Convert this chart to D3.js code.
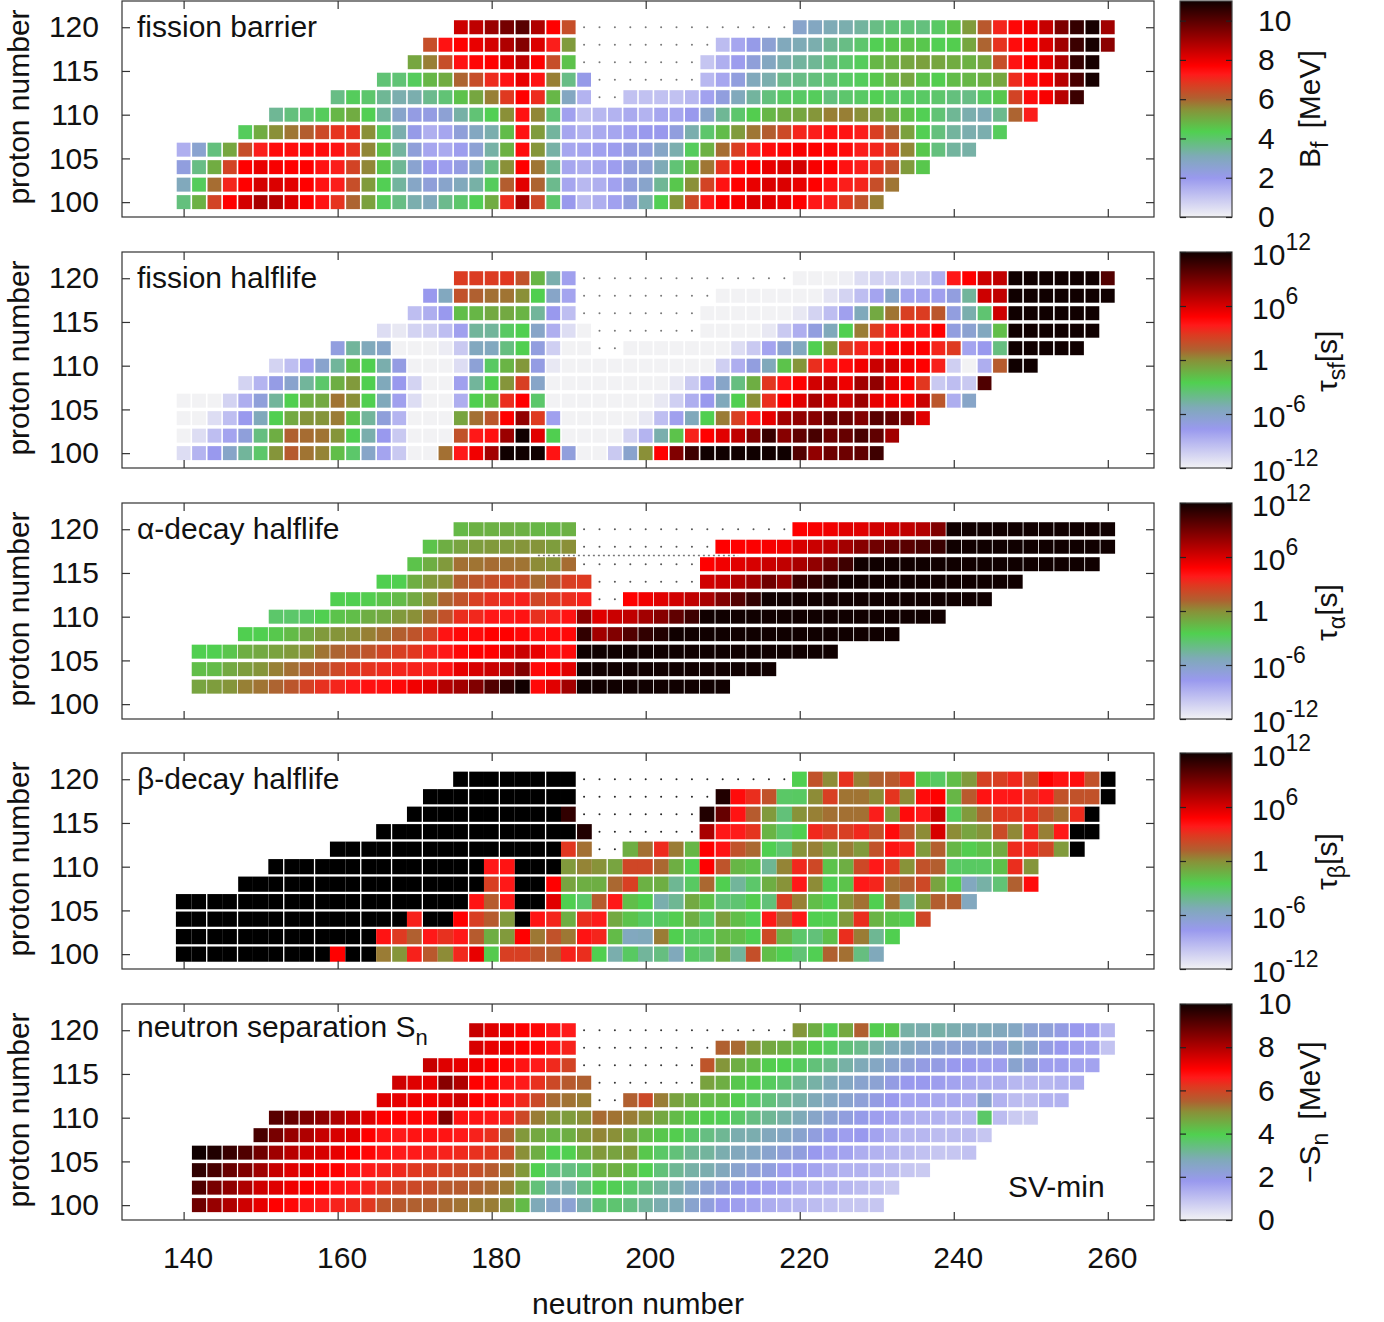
<!DOCTYPE html>
<html>
<head>
<meta charset="utf-8">
<script src="https://cdn.jsdelivr.net/npm/d3@7/dist/d3.min.js"></script>
<style>
body { margin: 0; background: #fff; }
text { font-family: "Liberation Sans", Arial, sans-serif; fill: #111; }
</style>
</head>
<body>
<svg id="chart" width="1384" height="1322"></svg>
<script>
const protonNumbers = [100, 102, 104, 106, 108, 110, 112, 114, 116, 118, 120];
const xTicks = [140, 160, 180, 200, 220, 240, 260];
const yTicks = [100, 105, 110, 115, 120];

const paletteStops = [0, 0.18, 0.28, 0.395, 0.5, 0.55, 0.62, 0.66, 0.7, 1];
const paletteColors = ["#f2f2f4", "#9999ee", "#7faab8", "#50d050", "#8a9038", "#b06030", "#e03820", "#ff1a1a", "#ff0000", "#100000"];

// first neutron number of every row, null stands for a position that only has a dot
const barrierStart = [140, 140, 140, 140, 148, 152, 160, 166, 170, 172, 176];
const barrierValues = [
  [3.8,4.9,6.6,7.7,8.3,8.9,8.7,8.2,7.7,7.4,6.9,6,5.2,4.2,3.7,3.2,3,3.6,4,4.3,5,7,8.9,6.5,4,2,1.2,1.5,1.8,2.3,3.2,4.3,5.4,6.5,7.3,7.7,7.8,8.2,8.1,8,7.7,7.3,7.2,6.8,6.3,5.7],
  [3,4.2,5.9,7.1,7.7,8.3,8.2,8.1,7.7,7.4,7.2,6.4,5.3,4.3,3.4,2.8,2.4,2.7,3,3.3,4.2,6.1,8.1,6,3.6,1.7,1.3,1.5,1.8,2.3,2.7,3.5,4.5,5.5,6.6,7.4,7.7,8,8.2,8.2,8,7.7,7.4,7.2,7.1,6.4,5.8],
  [2.3,3.7,5,6.6,7.7,8,7.8,7.7,7.7,7.4,7.2,6.6,5.6,4.5,3.5,2.6,2,1.9,2.2,2.9,3.7,5.5,7.7,5.8,3.5,1.7,1.5,1.7,1.9,2.3,2.5,3.1,3.9,4.7,5.8,6.9,7.5,7.7,8,8.2,8.3,7.8,7.7,7.4,7.2,6.9,6.3,5.3,4.5],
  [1.5,2.6,3.8,5.1,6.4,7.2,7.5,7.5,7.5,7.5,7.4,6.9,5.6,4.6,3.4,2.4,1.7,1.6,1.9,2.5,3.3,4.9,7.5,5.4,3.3,1.7,1.7,1.8,1.9,2.2,2.3,2.8,3.2,4.2,4.9,5.9,6.7,7.2,7.5,7.6,7.8,7.7,7.6,7.5,7.2,7.1,6.7,5.6,4.5,3.8,3.4,3.3],
  [4.2,5,5.5,5.8,6.1,6.5,6.9,6.9,5.5,4.2,3.2,2.1,1.5,1.7,2.4,2.9,3.2,4.7,7.4,5.3,3.4,1.7,1.4,1.6,1.7,1.8,2,2,2.3,3.2,4,4.7,5.3,5.8,6.1,6.5,7.1,7.2,7.4,7.4,7.2,6.7,6,5.2,4.3,3.8,3.4,3.2,3.2,4.2],
  [3.5,3.8,4,4.2,4.8,5,4.3,3.4,2.7,2.2,2.2,2.5,3.3,3.9,4.3,5.5,7.4,5.6,3.9,1.8,1.1,1.3,1.4,1.6,1.4,1.7,1.7,2,2.7,3.5,4,4.4,4.8,5,5.1,5.4,5.7,5.7,5.5,5.3,5,4.6,4.3,3.9,3.5,3.2,3.1,3.6,6,7.2],
  [3.7,4.2,4,3.5,3.2,3.2,3.6,3.9,4.6,5.1,5.7,6.8,7.7,7,4.8,2.9,1.4,null,null,1.1,1.1,1.1,1.1,1.3,1.8,2.3,3,3.4,3.8,4.1,4.1,4.2,3.8,4,4.1,4.3,4.1,4.1,4.1,4,3.8,3.7,4.1,4.5,6.6,7.5,7.8,8.7,10.4],
  [3.9,3.9,4.2,4.8,5,6,6.4,7,7.4,8,7.4,5.7,3.7,2.1,null,null,null,null,null,null,null,1.3,1.7,2.3,3,3.2,3.6,3.7,3.8,3.9,4.1,4.2,4.5,4.8,5.1,4.6,4.4,4.7,4.8,4.9,5.1,7,7.5,7.8,8.7,10.2,10.9],
  [5.1,5.7,6.4,7.4,7.6,7.7,8.1,8.6,7.7,6.4,4.6,null,null,null,null,null,null,null,null,1,1.5,1.9,2.4,2.9,3.2,3.4,3.5,3.8,4,4.2,4.8,4.9,5.1,5.2,5.1,5,4.9,5.1,6.4,7.4,7.7,8,8.8,10.5,10.9],
  [6.4,7.4,7.7,8,8.3,8.8,9.4,8.2,7.2,5.3,null,null,null,null,null,null,null,null,null,1.2,1.7,2.1,2.5,3,3.1,3.2,3.5,3.7,4,4.3,4.5,4.6,4.5,4.3,4.4,5.1,6,6.9,7.5,7.7,8.2,9,10.4,10.9,9.3],
  [8.4,8.6,9.1,9.6,10,8.8,7.7,6.4,null,null,null,null,null,null,null,null,null,null,null,null,null,null,2.7,2.9,3.1,3.2,3.4,3.7,3.9,3.9,3.8,4.1,4.6,5.3,6.2,7.1,7.6,7.9,8.5,9.5,10.5,10.9,9]
];

const fissionStart = [140, 140, 140, 140, 148, 152, 160, 166, 170, 172, 176];
const fissionValues = [
  [-11,-9,-7.7,-6,-4.5,-3.2,-0.2,1.4,0.7,0.3,-1.8,-3.2,-6,-8.2,-10,-12,-12,0.8,3.9,5.2,7.6,12,12,12,4.1,-6.9,-12,-12,-10,-6.2,0,4.8,8.6,10.6,12,12,12,12,12,12,10,8.1,9.2,9.2,9.6,10.6],
  [-12,-11,-9.5,-8.2,-6.8,-3.8,-1.2,1.2,0.9,0.7,-0.2,-2.5,-5,-7.7,-10,-12,-12,-12,1.8,3.9,4.2,7.8,12,5.7,-2.5,-12,-12,-12,-12,-10.5,-9,-5,-2,3.6,4.8,5.7,6.7,8.6,10.8,8.4,9.6,10.3,9.2,9.4,10.3,9.6,7.6],
  [-12,-12,-11,-9.5,-7.7,-5.4,-2.5,-1,-0.2,-0.2,0.5,-2,-4.5,-6.8,-9,-12,-12,-12,-0.8,0.8,1.6,4.8,8.1,2.8,-8,-12,-12,-12,-12,-12,-11.5,-9.5,-8,-5.4,-2.5,0.5,2.6,4.1,5.5,7.6,8.1,8.4,9.4,9.2,8.6,9.8,9.4,8.6,5.7],
  [-12,-12,-12,-10.5,-8.7,-6.8,-4.5,-2.5,-1.2,-1,0.7,0,-2.5,-5.4,-8,-11,-12,-12,-8.7,-2.5,-1.8,3.2,4.8,-3.2,-12,-12,-12,-12,-12,-12,-12,-11.5,-10.3,-8.7,-7.7,-5.4,-2.5,0,3.2,4.8,5.7,7.4,6.4,6.3,7.8,5.5,5.2,4.8,6.4,1.6,-8.7,-6],
  [-10.5,-9,-7.3,-6.2,-4.5,-3.2,-1.2,-0.4,-2.5,-5.4,-7.7,-10.5,-12,-12,-8,-4.5,-2.5,-0.2,2.6,-6,-12,-12,-12,-12,-12,-12,-12,-12,-11.5,-10,-8.2,-6,-3.8,-1.2,2.9,4.1,4.8,6.2,6.7,5.3,7.6,8.1,5.7,4.8,2.9,-10,-9.5,-10,10.1],
  [-10.5,-9.5,-8,-6.2,-4.5,-2,-2.5,-5,-7.2,-12,-12,-12,-11,-6.6,-3,-1.4,-0.3,-7.2,-11.5,-12,-12,-12,-12,-12,-12,-12,-12,-12,-12,-10.3,-8.7,-7,-5.4,-2,-0.2,3.2,4.1,4.4,5.2,6.4,6.3,5.2,4.8,3.6,-10.3,-12,-8.7,1.4,12,12],
  [-7,-4.5,-5.4,-6,-12,-12,-12,-11.7,-10,-5.6,-5.6,-3.8,-2.5,-7,-10.3,-12,-12,null,null,-12,-12,-12,-12,-12,-12,-12,-11,-10,-8.2,-6.4,-5.6,-2.5,-0.4,2.8,3.5,4.1,4.8,5,4.8,3.5,2.8,-8.2,-7.7,-3.8,12,12,12,12,12],
  [-11,-11.5,-10.5,-10.3,-9.5,-8,-4.5,-4.5,-3,-2.5,-6,-8.7,-11,-12,null,null,null,null,null,null,null,-12,-12,-12,-12,-11.5,-10,-8.7,-7,-5.4,-2.5,0.5,2.8,3.9,4.4,4.1,4.8,-7,-6.4,-5.6,-1.8,12,12,12,12,12,12],
  [-9.5,-8.7,-7.7,-1.8,-1.5,-1,-1,-1.4,-4.5,-7.7,-9.5,null,null,null,null,null,null,null,null,-12,-12,-12,-12,-12,-12,-11.5,-10.5,-9.5,-8,-5.4,-1,0.7,2.6,2.7,1.6,-7,-5,-3.4,6.3,12,12,12,12,12,12],
  [-7.7,-5.6,1.8,1.2,0.8,0.7,0,-2.5,-6,-8.2,null,null,null,null,null,null,null,null,null,-12,-12,-12,-12,-12,-12,-12,-11.3,-10.5,-9.5,-8.2,-6,-8.2,-8.2,-8,-7,-4.5,6.3,6.7,12,12,12,12,12,12,12],
  [2.7,2.7,2.7,2.9,1.8,-1.5,-5,-8,null,null,null,null,null,null,null,null,null,null,null,null,null,null,-12,-12,-12,-11.8,-11,-10.5,-10.5,-10.5,-10.2,-8.7,3.9,4.8,6.3,6.7,12,12,12,12,12,12,10]
];

const alphaStart = [null, 142, 142, 142, 148, 152, 160, 166, 170, 172, 176];
const alphaValues = [
  [],
  [-0.8,-0.5,-0.2,0.4,0.7,1.1,1.6,2.5,3.1,3.5,3.9,4.2,4.2,4.5,5.2,5.7,7.1,7.6,8.6,10,11,12,4.5,5.7,7.6,12,12,12,12,12,12,12,12,12,12],
  [-1.8,-1.7,-1,-0.5,-0.2,0.4,0.8,1.3,1.6,2.2,2.8,3,3.3,3.5,3.6,3.6,4.2,5.5,6,6.4,7.1,8.6,4.5,4.8,5.7,12,12,12,12,12,12,12,12,12,12,12,12,12],
  [-2.5,-2.5,-2.1,-1.2,-1,-0.7,-0.4,0,0.7,1.1,1.4,1.7,2.3,2.6,2.9,3.6,3.9,4.5,4.8,4.8,5.7,6.4,5.5,4.2,4.4,12,12,12,12,12,12,12,12,12,12,12,12,12,12,12,12,12],
  [-2.5,-2.5,-2.2,-1.7,-1,-0.4,-0.2,0,0.4,0.8,1.3,1.7,2.5,4.1,4.5,4.4,4.8,4.8,4.5,4.2,4.4,4.5,11,7.6,8.6,10,11,11.5,12,12,12,12,12,12,12,12,12,12,12,12,12,12,12],
  [-3.2,-3.2,-3,-2.5,-2,-1.8,-1.2,-1,-0.4,0,0.9,1.8,3.2,3.4,3.9,3.9,4.1,3.1,3.6,4.1,8.4,5.7,6.4,6.7,7.6,8.4,9.6,10.6,12,12,12,12,12,12,12,12,12,12,12,12,12,12,12,12],
  [-2.5,-2.5,-2.4,-2,-1.7,-1,0,1.1,1.8,2.6,3.1,3.4,3.6,2.3,2.8,3.2,3.6,null,null,4.8,5.2,5.7,6.2,6.7,7.4,8.6,10,11,12,12,12,12,12,12,12,12,12,12,12,12,12,12,12],
  [-2.5,-2.5,-1.2,-0.4,0,1.3,1.6,1.9,2.3,1.9,0.9,1.6,2.6,2.8,null,null,null,null,null,null,null,6.2,6.4,7.1,7.6,9.1,8,10.6,11,11.5,12,12,12,12,12,12,12,12,12,12,12,12],
  [-2,-1.2,-0.4,0.8,0.7,0.9,0.8,0.7,0.1,-0.1,0.9,null,null,null,null,null,null,null,null,4.8,5.2,5.7,6,6.4,6.7,7.4,8.1,9.2,10.6,12,12,12,12,12,12,12,12,12,12,12,12,12,12,12,12],
  [-2,-1.2,-0.8,-0.5,-0.4,-0.4,-0.2,-0.2,-0.5,0,null,null,null,null,null,null,null,null,null,4.8,4.8,4.9,5,5.2,6,6.4,6.8,7.6,8.4,9.1,9.6,9.8,10.3,10.8,12,12,12,12,12,12,12,12,12,12,12],
  [-1.6,-1.3,-1.3,-1.2,-1.3,-1.5,-1.5,-1.3,null,null,null,null,null,null,null,null,null,null,null,null,null,null,4.8,5,5.2,5.7,5.7,6.2,6.4,6.7,7.1,8.6,12,12,12,12,12,12,12,12,12,12,12]
];
const alphaStrayZ = 117;
const alphaStrayN = [186, 212];

// 13 lies over the colour range and comes out pure black
const betaStart = [140, 140, 140, 140, 148, 152, 160, 166, 170, 172, 176];
const betaValues = [
  [13,13,13,13,13,13,13,13,13,13,4.8,13,13,0.5,-0.2,3.6,1.5,0.1,3.4,5.5,-2.3,2.6,2.6,1.7,1.3,3.6,3.2,-2.5,-5,-3,-4.5,-3.8,-5.4,-3,-3.6,-1.2,-4.5,1.9,-1.8,-2.5,-3.5,-2.6,1.2,0.8,-3.8,-5.4],
  [13,13,13,13,13,13,13,13,13,13,13,13,13,4.1,2.8,1.2,3.9,3.1,3.9,1.4,-1.2,-0.4,4.8,0.6,1.8,0.6,4.1,3.5,-1.7,-5.6,-5.4,0.5,-2.5,-3,-2.8,-1.6,-1.8,-2.5,2.2,-1.4,-3.2,-3.6,-1.9,3.2,0.5,-4.3,-2.5],
  [13,13,13,13,13,13,13,13,13,13,13,13,13,13,13,3.6,13,13,4.8,2.6,1.4,-0.4,13,4.1,3.5,-1.2,3.2,3.8,-1,-2,-3,-3,-2.4,-1.2,-3,-0.5,-1.8,-2.6,3.9,1.2,3.9,-2.5,-2.4,-0.4,3.2,-1.4,-2.1,-2.4,2.3],
  [13,13,13,13,13,13,13,13,13,13,13,13,13,13,13,13,13,13,13,4.1,1.4,3.9,13,13,5.7,-2.5,-3.2,1.4,3.9,-1.8,-2.5,-5,-4.3,-1,-2,-3.6,-3.4,-2.4,-3.6,2.6,0.4,-1.8,-2.5,-0.2,0.8,-2.5,0.8,-4.3,-0.5,1.3,1.3,-5.6],
  [13,13,13,13,13,13,13,13,13,13,13,13,13,13,13,13,2.6,3.9,13,13,4.8,-0.8,-1.2,-1.2,1,2.6,-1.3,-1.2,-4.3,-3,1,-2.5,-4.5,-3.2,-1.2,-0.1,3.9,0.1,-2.6,-2,3.9,3.5,0.8,1.3,2.2,-0.8,-2.4,-5.6,-4.8,-3.5,1.2,4.4],
  [13,13,13,13,13,13,13,13,13,13,13,13,13,13,3.9,4.1,13,13,13,-0.4,0.3,-0.1,-0.8,2.3,2.3,1,-1.2,-2.5,4.8,1.7,-1.5,-1.9,-4.3,0.3,3.4,2.2,-2,-1.2,2.2,3.9,2.8,-0.1,1.8,1.3,-3,-3,-3,-1.9,3.2,-0.2],
  [13,13,13,13,13,13,13,13,13,13,13,13,13,13,13,2.9,0.8,null,null,-1.2,0.8,3.3,0.5,-1.5,4.8,4.1,1.8,1,-2.5,-3.4,-0.1,0.4,-0.7,0.5,-0.4,1.8,4.1,3.5,-0.4,1.3,-1.5,-2.4,-1.9,-1.1,3.3,3.4,2.3,-0.4,13],
  [13,13,13,13,13,13,13,13,13,13,13,13,13,11.5,null,null,null,null,null,null,null,7.4,3.9,3.8,3,-1.4,-3.2,-2.5,3.4,2.6,2.6,3.4,1.8,4.4,1.5,0.1,6,0.1,-0.8,-0.2,2.1,0.2,3.4,0.4,3.9,13,13],
  [13,13,13,13,13,13,13,13,13,13,11,null,null,null,null,null,null,null,null,11.5,9.4,4.1,1.4,-0.4,-3.6,-0.1,0.4,0.8,0.8,0.8,3.7,-0.4,4.4,3.9,6.4,-2.8,-0.4,1,2.9,2.9,3.2,1.8,0.8,3.3,13],
  [13,13,13,13,13,13,13,13,13,13,null,null,null,null,null,null,null,null,null,11.5,4.4,3.2,1.8,-3.1,-3,0.1,2.6,0.7,0.7,0.1,3,0.1,4.4,4.8,-1.5,1.5,4.1,3.9,4,3,3.9,1.8,1.8,1.8,13],
  [13,13,13,13,13,13,13,13,null,null,null,null,null,null,null,null,null,null,null,null,null,null,-2.5,1.8,0.1,3.1,0.4,1.2,1.5,3.3,-2.2,-3,-1.8,-0.4,2.5,2.6,3.4,1.8,4.8,4.1,4.3,1.8,13]
];
const betaGapN = [143,147,153,157,163,167,171,177,181,187,191,195,201,205,209,215,221,225,231,235,239,245,249,255,259];

const separationStart = [142, 142, 142, 142, 150, 152, 166, 168, 172, 178, 178];
const separationValues = [
  [8.8,8.3,8,7.6,7.3,7,6.9,6.7,6.6,6.5,6.4,6.2,5.7,5.6,5.5,5.5,5.4,5.3,5.2,5.2,4.85,4.3,2.8,2.5,2.3,2.9,3.6,3.6,3.4,3.1,2.9,2.8,2.4,2.1,1.8,1.7,1.6,1.4,1.3,1.2,1.1,1,0.9,0.9,0.9],
  [9.2,8.7,8.4,8,7.6,7.4,7.2,7,6.9,6.7,6.6,6.5,6.2,6,5.9,5.8,5.6,5.6,5.5,5.4,5.2,4.6,3.5,2.9,2.9,3.4,3.95,3.9,3.7,3.4,3.1,2.9,2.6,2.3,2.1,1.9,1.8,1.7,1.6,1.4,1.3,1.3,1.2,1.1,1,0.8],
  [9.6,9.3,8.9,8.6,8.2,7.7,7.4,7.3,7,7,6.7,6.6,6.5,6.4,6.2,6.1,6,5.9,5.8,5.6,5.3,4.85,3.95,3.5,3.4,3.6,4.4,4.5,4.3,3.95,3.5,3.2,3,2.9,2.7,2.4,2.2,2.1,1.7,1.7,1.6,1.4,1.3,1.3,1.2,1.1,0.9,0.8],
  [10,9.8,9.5,9.2,8.8,8.2,7.9,7.6,7.5,7.3,7,6.9,6.7,6.6,6.6,6.5,6.5,6.4,6.3,6.2,5.8,5,4.5,3.95,3.95,4.5,4.85,4.7,4.85,4.1,3.7,3.5,3.2,3.1,2.9,2.7,2.6,2.4,2.2,2.1,1.8,1.6,1.6,1.4,1.3,1.2,1.1,1,0.9,0.9,1],
  [9.3,8.7,8.3,8,7.7,7.5,7.4,7,6.7,6.6,6.7,6.7,6.7,6.6,6.5,6.3,5.5,4.85,4.6,4.4,4.5,4.85,5.1,5,4.7,4.3,4.1,4,3.7,3.4,3.2,2.9,2.9,2.7,2.6,2.4,2.1,1.9,1.7,1.8,1.6,1.3,1.2,1.2,1.1,1.1,1.1,0.9],
  [9.1,8.9,8.6,8.4,8,7.7,7.4,7,7,6.9,6.9,8.6,6.7,6.7,6.6,6.5,5.9,5.2,4.9,4.8,5,5.4,5.3,5.2,5,4.6,4.3,4.1,4,3.9,3.7,3.4,3.2,3,2.8,2.5,2.3,2.1,1.9,1.7,1.6,1.4,1.3,1.3,1.2,1.2,3.7,1.1,0.8,0.8],
  [7.4,7.3,7.2,7.1,7.4,7.6,7,6.9,6.7,6.4,5.9,5.4,5.3,5.2,null,null,5.5,5.9,5.2,4.7,4.5,4.3,4.3,4,3.7,3.5,3.2,3,2.8,2.6,2.4,2.2,2,1.8,1.6,1.6,1.5,1.5,1.4,2.4,1.3,1.1,1.1,1.3,1.3],
  [7.6,7.4,7.3,8.5,8,7,6.9,6.7,6.6,6.3,5.9,5.6,5.5,null,null,null,null,null,null,null,4.7,4.5,4.1,4,3.8,3.6,3.2,3,2.8,2.6,2.4,2.3,2,1.8,1.8,1.7,1.6,1.5,1.4,1.4,1.2,1.2,1.2,1.3,1.4],
  [7.7,7.4,7.3,7.2,7,6.9,6.7,6.6,6.4,6,null,null,null,null,null,null,null,null,5.7,4.9,4.5,4.3,4,3.95,3.8,3.5,3.3,3,2.8,2.6,2.4,2.2,2,2,1.8,1.8,1.7,1.7,2.4,2.1,1.7,1.7,1.6,1.6],
  [7.5,7.3,7.2,7,6.9,6.7,6.5,null,null,null,null,null,null,null,null,null,5.5,5.4,4.9,4.6,4.5,4.3,4,3.8,3.5,3.3,3,2.8,2.7,2.5,2.4,2.3,2.3,2.4,2.2,2.6,2.4,2,1.8,1.7,1.6,0.95],
  [7.7,7.4,7.2,7,6.9,6.7,6.6,null,null,null,null,null,null,null,null,null,null,null,null,null,null,4.9,4.5,4,4.6,5.5,4,4.1,3,2.9,3,2.9,2.8,2.8,2.7,2.6,2.3,2.2,2,1.8,1.7,1.2]
];

const energyTicks = [0, 2, 4, 6, 8, 10];
const timeTicks = [-12, -6, 0, 6, 12];

const svg = d3.select("#chart");
const fontSize = 30;
const panelHeight = 216;
const x = d3.scaleLinear().domain([132, 266]).range([122, 1154]);

// build the shared colour scale for one value range
function colorFor(lo, hi) {
    const scale = d3.scaleLinear()
        .domain(paletteStops.map(t => lo + t * (hi - lo)))
        .range(paletteColors)
        .clamp(true);
    return v => (v > hi ? "#000" : scale(v));
}

function styleAxis(g) {
    g.select(".domain").remove();
    g.selectAll(".tick line").attr("stroke", "#333").attr("stroke-width", 1.2);
    g.selectAll(".tick text").attr("font-size", fontSize).attr("fill", "#111");
}

function drawPanel(p, index) {
    const top = p.top, bottom = top + panelHeight;
    const y = d3.scaleLinear().domain([98.3, 123]).range([bottom, top]);
    const color = colorFor(p.lo, p.hi);
    const group = svg.append("g");
    const cellHalfW = p.cellW / 2, cellHalfH = p.cellH / 2;

    protonNumbers.forEach((z, r) => {
        const start = p.start[r];
        p.values[r].forEach((v, c) => {
            const n = start + 2 * c;
            if (v === null) {
                group.append("circle")
                    .attr("cx", x(n)).attr("cy", y(z))
                    .attr("r", 1).attr("fill", p.dot);
            } else {
                group.append("rect")
                    .attr("x", x(n) - cellHalfW).attr("y", y(z) - cellHalfH)
                    .attr("width", p.cellW).attr("height", p.cellH)
                    .attr("fill", color(v));
            }
        });
    });

    if (p.gaps) {
        p.gaps.forEach(n => {
            group.append("line")
                .attr("x1", x(n)).attr("x2", x(n))
                .attr("y1", top + 1).attr("y2", bottom - 1)
                .attr("stroke", "#fff").attr("stroke-width", 1.3);
        });
    }
    if (p.stray) {
        group.append("line")
            .attr("x1", x(p.stray.n[0])).attr("x2", x(p.stray.n[1]))
            .attr("y1", y(p.stray.z)).attr("y2", y(p.stray.z))
            .attr("stroke", "#777").attr("stroke-width", 1.5)
            .attr("stroke-dasharray", "2 3");
    }

    // frame and ticks
    svg.append("rect")
        .attr("x", 122).attr("y", top).attr("width", 1032).attr("height", panelHeight)
        .attr("fill", "none").attr("stroke", "#333").attr("stroke-width", 1.2);

    const bottomAxis = svg.append("g").attr("transform", "translate(0," + bottom + ")")
        .call(d3.axisBottom(x).tickValues(xTicks).tickSize(-8).tickPadding(27).tickFormat(d3.format("d")));
    styleAxis(bottomAxis);
    bottomAxis.selectAll(".tick text").attr("dx", 4);
    if (index < 4) bottomAxis.selectAll(".tick text").remove();

    const topAxis = svg.append("g").attr("transform", "translate(0," + top + ")")
        .call(d3.axisTop(x).tickValues(xTicks).tickSize(-8).tickFormat(""));
    styleAxis(topAxis);

    const leftAxis = svg.append("g").attr("transform", "translate(122,0)")
        .call(d3.axisLeft(y).tickValues(yTicks).tickSize(-8).tickPadding(23).tickFormat(d3.format("d")));
    styleAxis(leftAxis);

    const rightAxis = svg.append("g").attr("transform", "translate(1154,0)")
        .call(d3.axisRight(y).tickValues(yTicks).tickSize(-8).tickFormat(""));
    styleAxis(rightAxis);

    // y axis title
    svg.append("text")
        .attr("transform", "translate(29," + (top + 106) + ") rotate(-90)")
        .attr("text-anchor", "middle").attr("font-size", fontSize)
        .text("proton number");

    // panel label
    const label = svg.append("text")
        .attr("x", 137).attr("y", top + p.labelY).attr("font-size", fontSize);
    label.append("tspan").text(p.label);
    if (p.labelSub) {
        label.append("tspan").attr("dy", 8).attr("font-size", 22).text(p.labelSub);
    }

    drawColorbar(p, top, bottom);
}

function drawColorbar(p, top, bottom) {
    const gradId = "grad" + p.id;
    const grad = svg.append("linearGradient")
        .attr("id", gradId)
        .attr("x1", 0).attr("x2", 0).attr("y1", 1).attr("y2", 0);
    paletteStops.forEach((t, i) => {
        grad.append("stop").attr("offset", t).attr("stop-color", paletteColors[i]);
    });
    svg.append("rect")
        .attr("x", 1180).attr("y", top).attr("width", 52).attr("height", panelHeight)
        .attr("fill", "url(#" + gradId + ")")
        .attr("stroke", "#444").attr("stroke-width", 1.2);

    const cb = d3.scaleLinear().domain([p.lo, p.hi]).range([bottom, top]);
    const right = svg.append("g").attr("transform", "translate(1232,0)")
        .call(d3.axisRight(cb).tickValues(p.ticks).tickSize(-6).tickPadding(p.log ? 20 : 26).tickFormat(d3.format("d")));
    styleAxis(right);
    right.selectAll(".tick line").attr("stroke", "#222");
    const left = svg.append("g").attr("transform", "translate(1180,0)")
        .call(d3.axisLeft(cb).tickValues(p.ticks).tickSize(-6).tickFormat(""));
    styleAxis(left);
    left.selectAll(".tick line").attr("stroke", "#222");

    if (p.log) {
        right.selectAll(".tick text").each(function (d) {
            const t = d3.select(this).text(null);
            if (d === 0) { t.text("1"); return; }
            t.attr("dy", "0.42em");
            t.append("tspan").text("10");
            t.append("tspan").attr("dy", -15).attr("font-size", 23).text(d);
        });
    }

    const title = svg.append("text")
        .attr("transform", "translate(" + p.titleX + "," + (top + p.titleY) + ") rotate(-90)")
        .attr("font-size", fontSize);
    title.append("tspan").text(p.title);
    title.append("tspan").attr("dy", 8).attr("font-size", 23).text(p.titleSub);
    title.append("tspan").attr("dy", -8).attr("dx", p.titleUnitGap).text(p.titleUnit);
}

const panels = [
    { id: 0, top: 1, label: "fission barrier", labelY: 36, start: barrierStart, values: barrierValues, lo: 0, hi: 11, ticks: energyTicks,
      cellW: 13.8, cellH: 14, dot: "#777", title: "B", titleSub: "f", titleUnit: "[MeV]", titleUnitGap: 13, titleX: 1320, titleY: 167 },
    { id: 1, top: 252, label: "fission halflife", labelY: 36, start: fissionStart, values: fissionValues, lo: -12, hi: 12, ticks: timeTicks, log: true,
      cellW: 13.8, cellH: 14, dot: "#777", title: "τ", titleSub: "sf", titleUnit: "[s]", titleUnitGap: 0, titleX: 1337, titleY: 140 },
    { id: 2, top: 503, label: "α-decay halflife", labelY: 36, start: alphaStart, values: alphaValues, lo: -12, hi: 12, ticks: timeTicks, log: true,
      cellW: 14.6, cellH: 14, dot: "#555", stray: { z: alphaStrayZ, n: alphaStrayN }, title: "τ", titleSub: "α", titleUnit: "[s]", titleUnitGap: 0, titleX: 1337, titleY: 138 },
    { id: 3, top: 753, label: "β-decay halflife", labelY: 36, start: betaStart, values: betaValues, lo: -12, hi: 12, ticks: timeTicks, log: true,
      cellW: 15.41, cellH: 15.2, dot: "#222", gaps: betaGapN, title: "τ", titleSub: "β", titleUnit: "[s]", titleUnitGap: 0, titleX: 1337, titleY: 137 },
    { id: 4, top: 1004, label: "neutron separation S", labelY: 33, labelSub: "n", start: separationStart, values: separationValues, lo: 0, hi: 10, ticks: energyTicks,
      cellW: 14.2, cellH: 14, dot: "#333", title: "−S", titleSub: "n", titleUnit: "[MeV]", titleUnitGap: 13, titleX: 1320, titleY: 179 }
];

panels.forEach(drawPanel);

svg.append("text")
    .attr("x", 1008).attr("y", 1197).attr("font-size", fontSize)
    .text("SV-min");

svg.append("text")
    .attr("x", 638).attr("y", 1314).attr("text-anchor", "middle").attr("font-size", fontSize)
    .text("neutron number");
</script>
</body>
</html>
